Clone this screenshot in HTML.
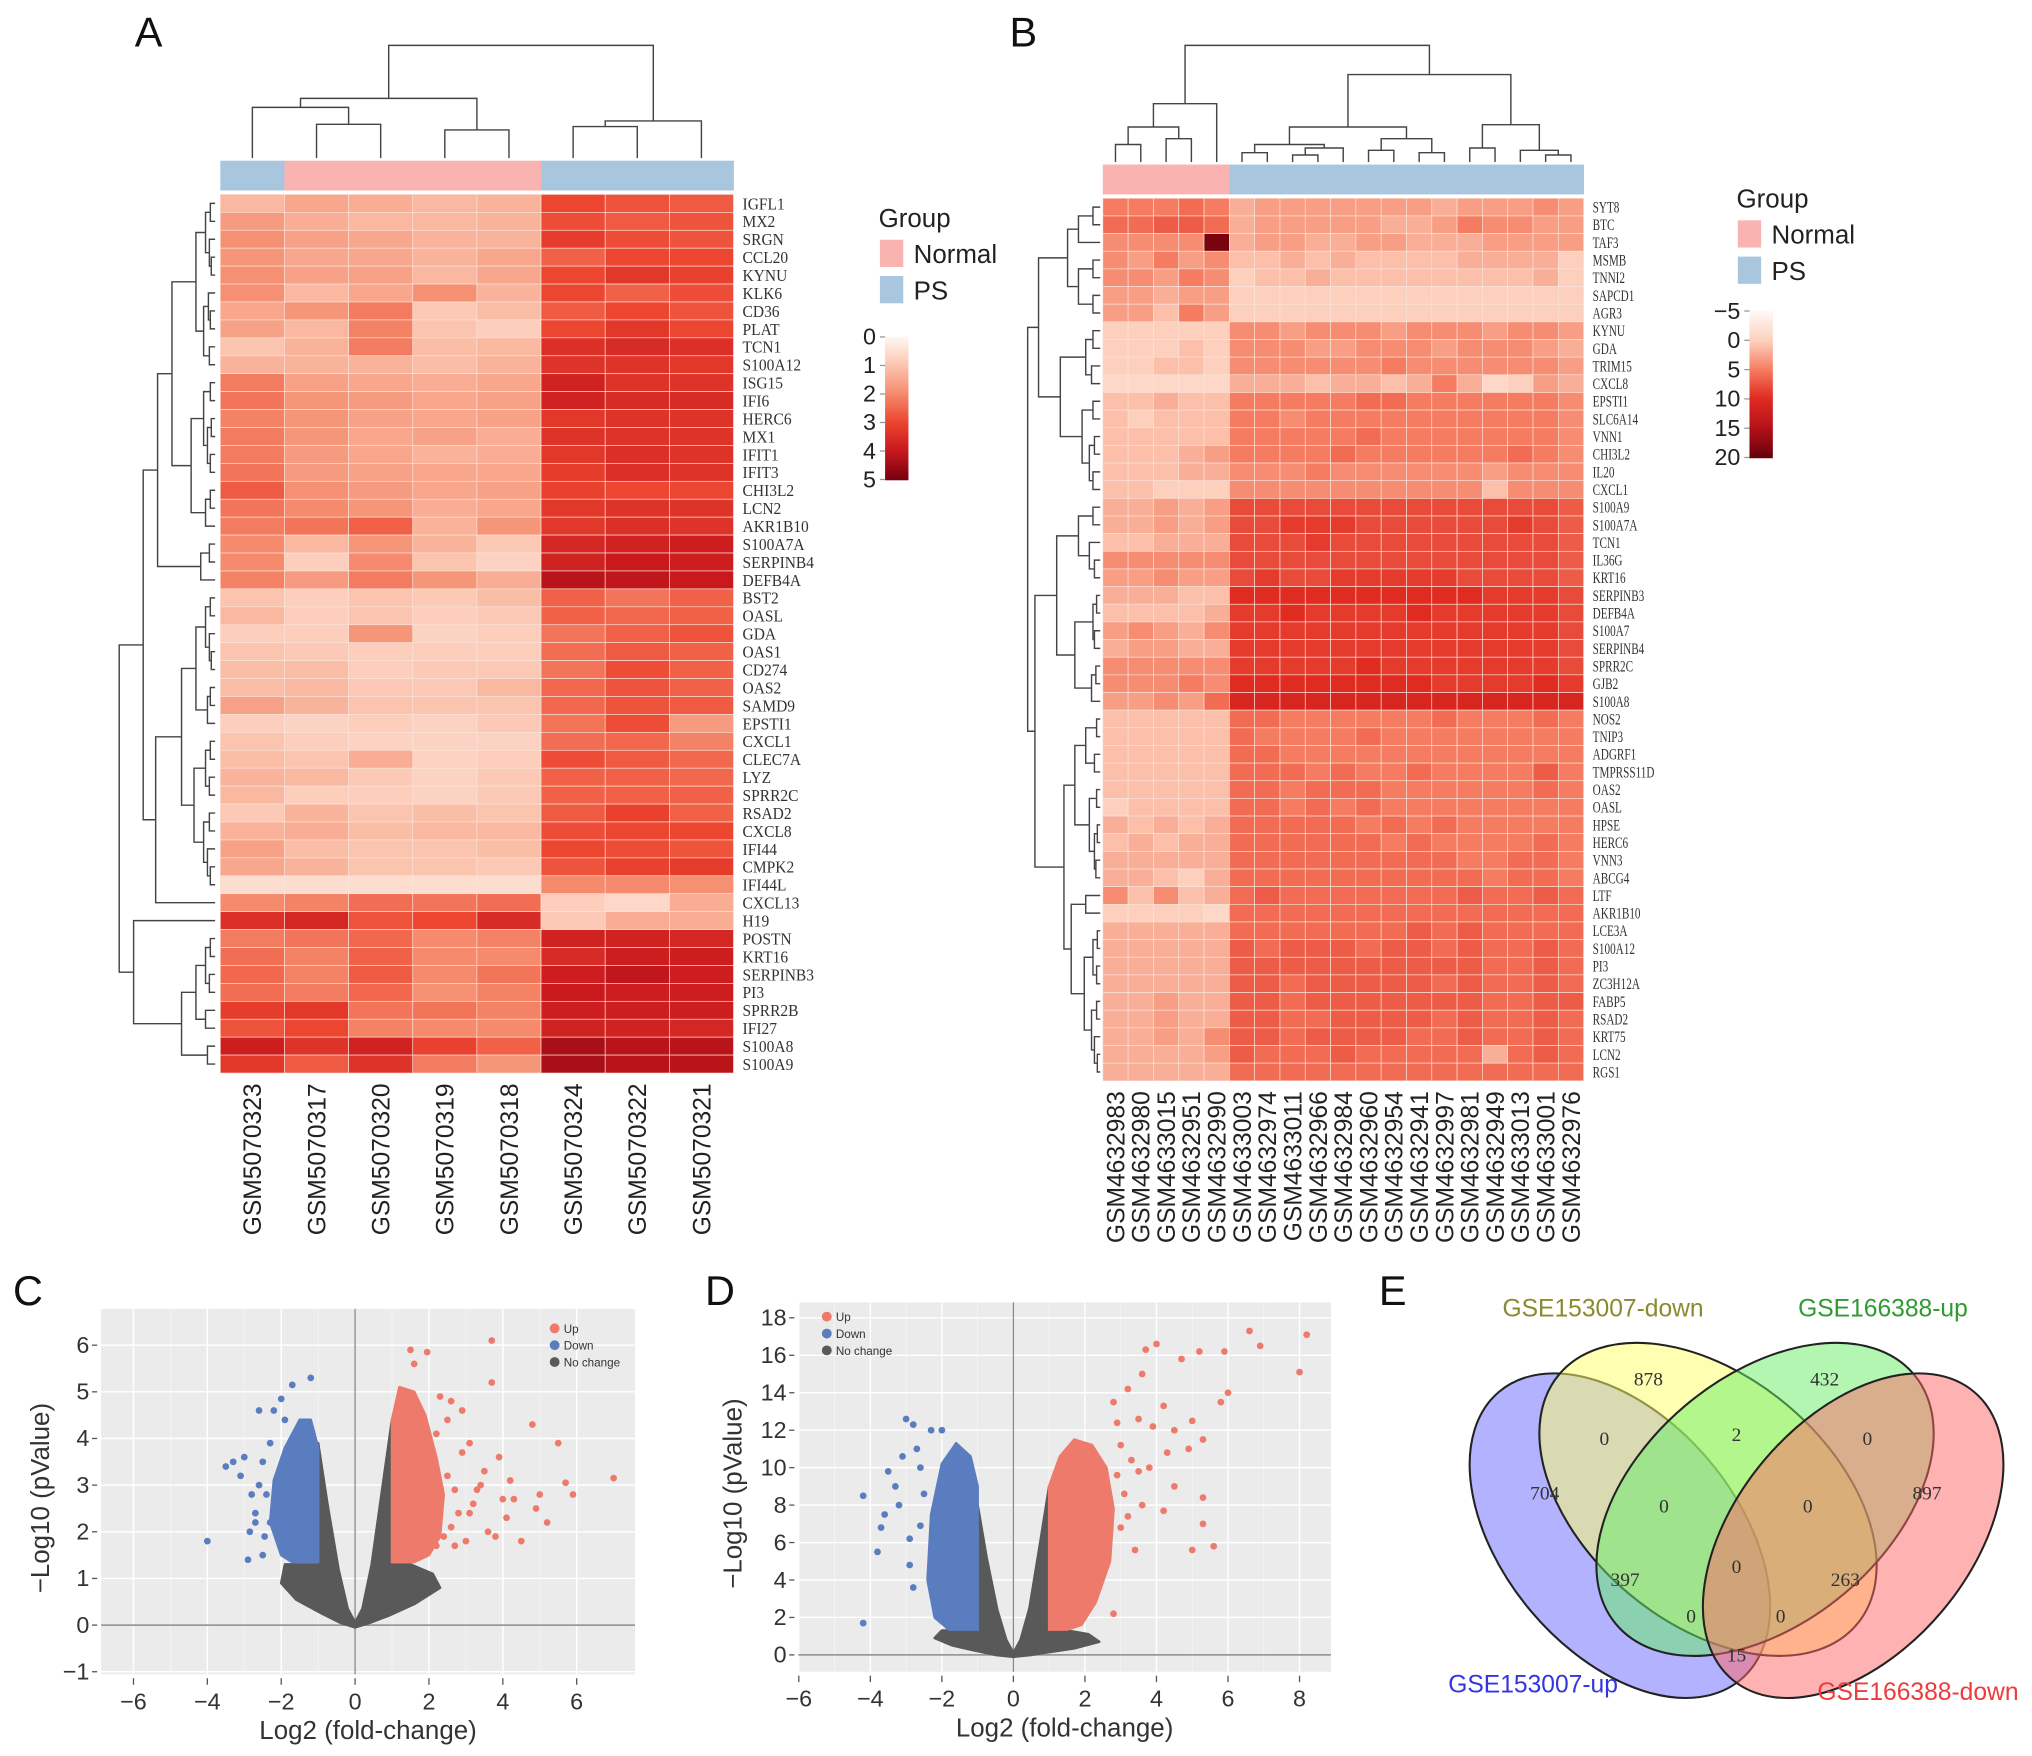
<!DOCTYPE html>
<html><head><meta charset="utf-8"><style>html,body{margin:0;padding:0;background:#fff}svg{display:block}</style></head>
<body>
<svg id="fig" xmlns="http://www.w3.org/2000/svg" width="2032" height="1756" viewBox="0 0 1568 1355" font-family="Liberation Sans, sans-serif">
<rect width="1568" height="1355" fill="#fff"/>
<g font-size="32" fill="#111">
<text x="104" y="36">A</text>
<text x="779" y="36">B</text>
<text x="10" y="1007">C</text>
<text x="544" y="1007">D</text>
<text x="1064" y="1007">E</text>
</g>
<g id="gA"></g>
<g id="gB"></g>
<g id="gC"></g>
<g id="gD"></g>
<g id="gE"></g>
</svg>
<script>
// ---------- Heatmap A data ----------
const aCols=["GSM5070323","GSM5070317","GSM5070320","GSM5070319","GSM5070318","GSM5070324","GSM5070322","GSM5070321"];
const aGroups=["PS","Normal","Normal","Normal","Normal","PS","PS","PS"];
const aRows=["IGFL1","MX2","SRGN","CCL20","KYNU","KLK6","CD36","PLAT","TCN1","S100A12","ISG15","IFI6","HERC6","MX1","IFIT1","IFIT3","CHI3L2","LCN2","AKR1B10","S100A7A","SERPINB4","DEFB4A","BST2","OASL","GDA","OAS1","CD274","OAS2","SAMD9","EPSTI1","CXCL1","CLEC7A","LYZ","SPRR2C","RSAD2","CXCL8","IFI44","CMPK2","IFI44L","CXCL13","H19","POSTN","KRT16","SERPINB3","PI3","SPRR2B","IFI27","S100A8","S100A9"];
const aVals=[
[1.2,1.5,1.4,1.2,1.3,3.0,2.8,2.7],[1.7,1.4,1.2,1.2,1.3,2.9,2.7,2.8],[1.9,1.6,1.5,1.3,1.3,3.2,2.9,2.8],[1.8,1.5,1.5,1.3,1.5,2.6,3.0,3.0],
[1.9,1.6,1.6,1.2,1.5,3.0,3.3,3.1],[1.9,1.2,1.5,1.9,1.3,3.0,2.6,2.9],[1.5,1.8,2.2,0.9,1.1,2.7,3.0,2.8],[1.6,1.2,2.1,1.0,0.8,3.0,3.3,3.0],
[1.0,1.3,2.2,1.1,1.2,3.5,3.6,3.5],[1.3,1.3,1.3,1.1,1.3,3.4,3.4,3.3],[2.2,1.6,1.5,1.4,1.5,3.8,3.4,3.4],[2.3,1.8,1.7,1.5,1.6,3.8,3.6,3.6],
[2.1,1.8,1.6,1.5,1.6,3.3,3.4,3.4],[2.2,1.8,1.5,1.6,1.4,3.4,3.4,3.4],[2.2,1.7,1.5,1.3,1.4,3.3,3.5,3.4],[2.3,1.7,1.6,1.5,1.5,3.2,3.5,3.4],
[2.7,1.9,1.7,1.5,1.6,3.1,3.0,3.0],[2.3,2.0,1.8,1.4,1.5,3.3,3.4,3.4],[2.2,2.3,2.6,1.3,1.8,3.3,3.5,3.4],[2.0,1.2,1.8,1.3,0.9,3.7,3.8,3.9],
[2.0,0.8,2.0,1.0,0.7,3.8,4.0,3.9],[2.1,1.7,2.2,1.8,1.4,4.2,4.1,4.0],[1.0,0.8,1.0,0.9,1.1,2.6,2.3,2.6],[1.2,0.8,1.0,0.8,0.9,2.6,2.5,2.6],
[0.8,0.8,1.8,0.7,0.8,2.3,2.6,2.8],[1.0,0.9,0.8,0.8,0.8,2.4,2.7,2.6],[1.1,1.1,0.8,0.9,0.9,2.3,2.9,2.6],[1.1,1.2,0.9,0.9,1.2,2.5,2.8,2.6],
[1.6,1.3,1.0,1.0,1.0,2.5,2.8,2.7],[0.8,0.7,0.8,0.7,0.9,2.3,2.9,1.7],[1.0,0.8,0.7,0.7,0.7,2.4,2.5,2.1],[1.1,1.0,1.4,0.7,0.8,2.9,2.7,2.5],
[1.3,1.2,0.9,0.7,0.9,2.6,2.6,2.5],[1.2,0.8,0.8,0.7,0.9,2.6,2.6,2.6],[0.9,1.3,1.0,1.1,1.0,2.7,3.1,2.6],[1.3,1.4,1.1,1.2,1.2,2.9,3.0,3.0],
[1.6,1.1,1.0,1.0,1.1,3.0,2.9,2.8],[1.5,1.3,1.0,1.0,0.9,2.8,3.1,3.2],[0.5,0.5,0.5,0.5,0.5,2.0,2.0,1.9],[2.0,2.1,2.4,2.3,2.4,0.8,0.6,1.4],
[3.5,3.7,2.8,3.0,3.6,0.9,1.4,1.4],[2.2,2.3,2.5,2.0,2.1,3.8,3.8,3.7],[2.4,2.1,2.6,2.0,2.0,3.6,3.9,3.9],[2.5,2.1,2.7,2.0,2.3,3.9,4.1,3.9],
[2.4,2.2,2.5,1.9,2.1,4.0,3.9,3.9],[3.2,3.3,2.3,2.3,2.1,3.9,3.9,3.9],[2.8,3.0,2.1,2.0,2.0,3.8,3.8,3.7],[3.9,3.4,3.8,3.1,2.6,4.4,4.2,4.2],
[3.3,2.7,3.4,2.2,1.8,4.4,4.2,4.2]];
const aTicks=[0,1,2,3,4,5];
// ---------- Heatmap B data ----------
const bCols=["GSM4632983","GSM4632980","GSM4633015","GSM4632951","GSM4632990","GSM4633003","GSM4632974","GSM4633011","GSM4632966","GSM4632984","GSM4632960","GSM4632954","GSM4632941","GSM4632997","GSM4632981","GSM4632949","GSM4633013","GSM4633001","GSM4632976"];
const bGroups=["Normal","Normal","Normal","Normal","Normal","PS","PS","PS","PS","PS","PS","PS","PS","PS","PS","PS","PS","PS","PS"];
const bRows=["SYT8","BTC","TAF3","MSMB","TNNI2","SAPCD1","AGR3","KYNU","GDA","TRIM15","CXCL8","EPSTI1","SLC6A14","VNN1","CHI3L2","IL20","CXCL1","S100A9","S100A7A","TCN1","IL36G","KRT16","SERPINB3","DEFB4A","S100A7","SERPINB4","SPRR2C","GJB2","S100A8","NOS2","TNIP3","ADGRF1","TMPRSS11D","OAS2","OASL","HPSE","HERC6","VNN3","ABCG4","LTF","AKR1B10","LCE3A","S100A12","PI3","ZC3H12A","FABP5","RSAD2","KRT75","LCN2","RGS1"];
const bVals=[
[5,5,5,6,5,2,3,3,3,3,3,3,3,2,3,3,3,4,3],[6,6,7,7,6,2,3,3,3,3,3,2,2,3,5,4,4,3,3],[4,4,4,4,19,2,3,3,2,2,3,3,2,2,2,3,3,3,3],
[4,3,5,3,4,1,1,2,1,2,1,1,1,1,2,2,2,2,0],[4,4,3,5,4,0,1,1,2,1,1,1,1,1,1,1,1,2,0],[3,3,2,3,3,0,0,0,0,0,0,0,0,0,0,0,0,0,0],
[3,3,1,5,3,0,0,0,0,0,0,0,0,0,0,0,0,0,0],[0,0,0,0,0,4,4,3,4,4,4,3,4,4,4,3,4,4,3],[0,0,0,1,0,4,4,4,3,3,4,4,4,3,4,4,4,3,2],
[0,0,1,1,0,4,4,4,4,4,4,5,4,4,4,4,4,4,3],[-1,-1,-1,-1,-1,2,2,2,1,2,2,1,2,5,2,-1,0,3,2],[1,1,2,1,1,5,5,5,5,5,6,6,5,5,5,5,5,5,4],
[1,0,1,1,1,5,5,4,5,5,5,5,5,5,5,5,5,5,4],[1,1,1,1,1,5,5,5,5,5,6,5,5,5,5,5,5,5,4],[1,1,1,2,3,5,5,5,5,6,5,5,5,5,5,5,6,5,4],
[1,1,1,2,2,4,4,4,5,4,4,4,4,4,4,3,4,4,4],[1,1,0,0,0,4,4,4,4,4,4,4,4,4,4,1,4,4,4],[2,2,3,2,3,8,8,8,8,8,8,8,8,8,8,8,8,8,7],
[2,2,3,2,3,8,8,9,9,9,8,8,8,8,8,8,9,8,7],[1,1,2,2,2,8,8,8,9,8,8,8,8,8,8,8,8,8,7],[4,4,4,4,4,8,8,8,8,8,8,8,8,8,8,8,8,8,7],
[3,3,4,3,3,8,9,8,8,9,9,9,9,9,8,8,8,8,7],[2,2,2,1,1,10,10,10,10,10,10,10,10,10,10,9,9,9,8],[1,1,1,1,2,9,9,10,9,9,9,9,10,9,9,9,9,9,8],
[3,4,3,2,4,9,9,9,9,9,9,9,9,9,9,9,9,9,8],[2,3,3,2,2,9,9,9,9,9,9,9,9,9,9,9,9,9,8],[4,4,4,4,4,9,9,9,9,9,10,9,9,9,9,9,9,9,8],
[4,4,4,5,4,10,10,10,10,10,10,10,10,9,9,9,9,10,9],[3,3,4,3,6,11,11,11,11,11,11,11,11,11,11,11,11,11,11],[1,1,1,1,1,6,6,5,5,5,5,5,5,6,5,5,5,6,5],
[1,1,1,1,1,6,5,5,5,5,6,5,5,5,5,5,5,5,5],[1,1,1,1,1,6,6,5,5,5,5,5,5,5,5,5,5,5,5],[1,1,1,1,1,6,6,6,5,6,5,5,6,5,5,5,5,7,5],
[1,1,1,1,1,6,6,5,6,6,6,5,5,5,5,5,5,6,5],[0,1,1,1,1,6,6,5,6,5,6,5,5,5,5,5,5,5,5],[2,1,2,1,2,6,6,6,6,6,5,6,5,6,5,5,5,5,5],
[1,2,1,2,2,6,6,6,6,6,6,5,6,5,5,5,5,6,5],[2,2,2,2,2,6,6,6,6,6,6,6,6,6,5,5,6,6,5],[2,2,1,0,2,6,6,6,6,6,6,6,6,6,6,5,6,6,5],
[4,1,4,1,2,6,7,6,6,6,6,6,6,6,7,6,6,7,6],[0,0,0,0,-1,6,6,6,6,6,6,6,6,6,6,6,6,6,6],[2,2,2,2,2,6,6,6,6,6,6,6,7,6,7,6,6,6,6],
[2,2,2,2,2,7,6,7,7,7,6,7,7,6,7,6,6,7,6],[2,2,2,2,2,7,7,7,7,7,7,7,7,7,7,6,6,7,6],[2,2,2,2,2,7,7,6,7,7,7,7,7,6,7,6,6,7,6],
[2,2,3,2,2,7,7,6,7,7,7,7,7,7,7,6,6,7,7],[2,2,3,2,2,7,7,6,6,7,7,7,7,6,7,6,6,7,6],[2,2,3,2,4,7,7,6,7,7,7,7,6,6,7,6,6,7,6],
[2,2,2,2,3,7,6,6,6,7,6,6,6,6,6,2,6,7,6],[2,2,2,2,2,6,6,6,6,6,6,6,6,6,6,6,6,6,6]];
const bTicks=[-5,0,5,10,15,20];
// ---------- Volcano C data ----------
const cXTicks=[-6,-4,-2,0,2,4,6];
const cYTicks=[-1,0,1,2,3,4,5,6];
const cGrayX=[-1,-0.75,-0.45,-0.2,0,0.2,0.45,0.75,1,1,1.5,2.1,2.3,1.6,0.9,0.4,0,-0.4,-0.9,-1.6,-2.0,-1.9,-1.4,-1];
const cGrayY=[3.9,2.6,1.2,0.35,0.05,0.35,1.3,3.0,4.4,1.3,1.3,1.1,0.8,0.45,0.2,0.05,-0.05,0.05,0.25,0.55,0.9,1.3,1.3,1.3];
const cDownX=[-1,-1,-1.2,-1.5,-1.9,-2.2,-2.3,-2.0,-1.7];
const cDownY=[1.35,3.8,4.4,4.4,3.8,3.1,2.2,1.5,1.35];
const cUpX=[1,1,1.2,1.6,1.9,2.2,2.4,2.3,2.0,1.6];
const cUpY=[1.35,4.4,5.1,5.0,4.5,3.6,2.8,1.9,1.5,1.35];
const cUpPtsX=[3.7,3.7,1.5,1.95,1.6,4.8,5.5,5.9,7.0,5.7,4.5,3.8,3.5,3.9,4.2,3.2,5.0,3.6,2.9,2.6,2.3,3.1,4.0,5.2,3.3,4.9,4.3,2.7,3.0,2.5,2.8,3.4,2.6,2.9,4.1,2.2,2.4,3.1,2.7,2.2,2.5];
const cUpPtsY=[6.1,5.2,5.9,5.85,5.6,4.3,3.9,2.8,3.15,3.05,1.8,1.9,3.3,3.6,3.1,2.6,2.8,2.0,4.6,4.8,4.9,3.9,2.7,2.2,2.9,2.5,2.7,1.7,1.8,3.2,2.4,3.0,2.1,3.7,2.3,4.1,1.9,2.4,2.9,1.7,4.4];
const cDnPtsX=[-4,-3.3,-3.0,-2.8,-3.5,-2.6,-2.9,-2.5,-2.3,-1.2,-1.7,-2.2,-2.7,-3.1,-2.5,-2.0,-2.85,-1.9,-2.4,-2.6,-2.3,-2.7,-2.45,-2.1];
const cDnPtsY=[1.8,3.5,3.6,2.8,3.4,4.6,1.4,1.5,2.2,5.3,5.15,4.6,2.4,3.2,3.5,4.85,2.0,4.4,2.8,3.0,3.9,2.2,1.9,2.5];
// ---------- Volcano D data ----------
const dXTicks=[-6,-4,-2,0,2,4,6,8];
const dYTicks=[0,2,4,6,8,10,12,14,16,18];
const dGrayX=[-1,-0.75,-0.45,-0.2,0,0.2,0.45,0.75,1,1,1.5,2.1,2.4,1.7,1.0,0.5,0,-0.5,-1,-1.7,-2.2,-2.0,-1.5,-1];
const dGrayY=[8.0,5.2,2.4,0.8,0.1,0.8,2.5,6.0,9.0,1.3,1.3,1.1,0.7,0.35,0.15,0.0,-0.1,0.0,0.2,0.5,0.9,1.3,1.3,1.3];
const dDownX=[-1,-1,-1.2,-1.6,-2.0,-2.3,-2.4,-2.2,-1.8];
const dDownY=[1.35,9.0,10.6,11.3,10.2,7.5,4.0,2.0,1.35];
const dUpX=[1,1,1.3,1.7,2.2,2.6,2.8,2.7,2.3,1.9,1.5];
const dUpY=[1.35,9.0,10.6,11.5,11.2,10.0,7.8,5.0,2.8,1.6,1.35];
const dUpPtsX=[6.6,8.2,6.9,5.9,5.2,4.0,3.7,4.7,3.6,8.0,6.0,5.8,5.0,4.2,4.5,3.5,4.9,3.2,5.3,5.3,5.0,5.3,4.5,3.8,3.6,4.2,3.4,2.8,5.6,2.8,3.9,3.0,3.3,2.9,3.1,3.5,3.0,4.3,2.9,3.2];
const dUpPtsY=[17.3,17.1,16.5,16.2,16.2,16.6,16.3,15.8,15.0,15.1,14.0,13.5,12.5,13.3,12.0,12.6,11.0,14.2,8.4,7.0,5.6,11.5,9.0,10.0,8.0,7.7,5.6,2.2,5.8,13.5,12.2,11.2,10.4,9.6,8.6,9.8,6.8,10.8,12.4,7.4];
const dDnPtsX=[-4.2,-4.2,-3.5,-3.0,-2.8,-2.3,-3.7,-3.2,-3.6,-2.7,-3.3,-2.9,-2.6,-3.8,-2.0,-2.5,-2.9,-2.6,-2.8,-3.1];
const dDnPtsY=[8.5,1.7,9.8,12.6,12.3,12.0,6.8,8.0,7.5,11.0,9.0,6.2,10.0,5.5,12.0,8.6,4.8,6.9,3.6,10.6];
// ---------- Venn data ----------
const vennSets=["GSE153007-up","GSE153007-down","GSE166388-up","GSE166388-down"];
const vennCounts=[704,878,432,897,0,2,0,0,0,0,397,263,0,0,15];

const NS='http://www.w3.org/2000/svg';
function mk(p,tag,at){const e=document.createElementNS(NS,tag);for(const k in at)e.setAttribute(k,at[k]);p.appendChild(e);return e;}
function hex(c){return [parseInt(c.slice(1,3),16),parseInt(c.slice(3,5),16),parseInt(c.slice(5,7),16)];}
function ramp(stops,cols){const cs=cols.map(hex);return v=>{if(v<=stops[0])return cols[0];for(let i=1;i<stops.length;i++){if(v<=stops[i]){const t=(v-stops[i-1])/(stops[i]-stops[i-1]);const a=cs[i-1],b=cs[i];return 'rgb('+a.map((x,j)=>Math.round(x+(b[j]-x)*t)).join(',')+')';}}return cols[cols.length-1];};}
const colA=ramp([0,1,2,3,4,5],['#fff5f0','#fbc4ae','#f58a6c','#ec4530','#c9191d','#7a0010']);
const colB=ramp([-5,0,5,10,15,20],['#fff7f3','#fcd0bd','#f57c60','#e02b20','#b5121a','#6a000c']);
const grpCol={Normal:'#f9b3b0',PS:'#a9c6df'};

function dendro(g,tree,leafPos,hPos,orient,leafEdge,name){
  function walk(n){
    if(typeof n==='number')return {p:leafPos(n),h:null};
    const a=walk(n[1]),b=walk(n[2]);const hn=hPos(n[0]);
    const ha=a.h===null?leafEdge:a.h,hb=b.h===null?leafEdge:b.h;
    let d;
    if(orient==='top')d=`M${a.p},${ha}V${hn}H${b.p}V${hb}`;
    else d=`M${ha},${a.p}H${hn}V${b.p}H${hb}`;
    const e=mk(g,'path',{d:d,fill:'none',stroke:'#444','stroke-width':1.1});
    
    
    return {p:(a.p+b.p)/2,h:hn};
  }
  walk(tree);
}

function heatmap(g,cfg){
  const {x0,y0,w,h,cols,groups,rows,vals,col,pre}=cfg;
  const cw=w/cols.length,rh=h/rows.length;
  groups.forEach((gr,j)=>{const r=mk(g,'rect',{x:x0+j*cw,y:cfg.annY,width:cw+0.3,height:cfg.annH,fill:grpCol[gr]});
    
    });
  vals.forEach((row,i)=>row.forEach((v,j)=>{
    const r=mk(g,'rect',{x:x0+j*cw,y:y0+i*rh,width:cw,height:rh,fill:col(v),stroke:'#fbe3da','stroke-width':0.5});
    
    
  }));
  rows.forEach((n,i)=>{const t=mk(g,'text',{x:cfg.labX,y:y0+(i+0.5)*rh+cfg.rowFs*0.35,'font-family':'Liberation Serif, serif','font-size':cfg.rowFs,fill:'#333',transform:`translate(${cfg.labX},0) scale(${cfg.sx},1) translate(${-cfg.labX},0)`});t.textContent=n;
    
    });
  cols.forEach((n,j)=>{const cx=x0+(j+0.5)*cw+cfg.colFs*0.36,cy=y0+h+8;const t=mk(g,'text',{x:cx,y:cy,'font-size':cfg.colFs,fill:'#222','text-anchor':'end',transform:`rotate(-90 ${cx} ${cy})`});t.textContent=n;
    
    });
  return {cw,rh};
}
function legend(g,lx,ly,cb,ticks,col,pre){
  let t=mk(g,'text',{x:lx,y:ly,'font-size':20,fill:'#222'});t.textContent='Group';
  
  
  ['Normal','PS'].forEach((k,i)=>{const r=mk(g,'rect',{x:lx+1,y:ly+10+i*28,width:18,height:21,fill:grpCol[k]});
    
    
    const tt=mk(g,'text',{x:lx+27,y:ly+28+i*28,'font-size':20,fill:'#222'});tt.textContent=k;
    
    });
  const lo=ticks[0],hi=ticks[ticks.length-1];const yv=v=>cb.y+(v-lo)/(hi-lo)*cb.h;
  for(let k=0;k<60;k++){const v=lo+(hi-lo)*k/59;const r=mk(g,'rect',{x:cb.x,y:cb.y+cb.h*k/60,width:18,height:cb.h/60+0.6,fill:col(v)});
    
    }
  ticks.forEach(v=>{const l=mk(g,'line',{x1:cb.x-4,x2:cb.x,y1:yv(v),y2:yv(v),stroke:'#999'});
    
    
    const tt=mk(g,'text',{x:cb.x-7,y:yv(v)+6,'font-size':18,fill:'#222','text-anchor':'end'});tt.textContent=(v<0?'\u2212'+(-v):v);
    
    });
}
// ---- Panel A ----
const gA=document.getElementById('gA');
const hA=heatmap(gA,{x0:170,y0:150,w:396,h:678,cols:aCols,groups:aGroups,rows:aRows,vals:aVals,col:colA,pre:'heatmap-a-',annY:124,annH:23,labX:573,rowFs:13,sx:0.92,colFs:19});
const aTop=[1,[0.53,[0.45,0,[0.3,1,2]],[0.25,3,4]],[0.33,[0.28,5,6],7]];
dendro(gA,aTop,j=>170+(j+0.5)*hA.cw,h=>122-h*87,'top',122,'heatmap-a-column-dendrogram');
const T1=[0.6,[0.45,[0.2,[0.1,[0.05,0,1],[0.06,2,[0.04,3,4]]],[0.12,[0.07,5,[0.05,6,7]],[0.06,8,9]]],[0.25,[0.12,[0.05,10,11],[0.08,[0.04,12,13],[0.05,14,15]]],[0.1,[0.05,16,17],18]]],[0.15,[0.06,19,20],21]];
const T2=[0.35,[0.2,[0.1,[0.05,22,23],[0.06,24,[0.04,25,26]]],[0.08,[0.05,27,28],29]],[0.22,[0.1,[0.05,30,31],[0.06,32,33]],[0.12,[0.06,34,35],[0.08,36,[0.05,37,38]]]]];
const T3=[0.35,[0.2,[0.1,[0.05,41,42],[0.06,43,44]],[0.1,45,46]],[0.08,47,48]];
dendro(gA,[1,[0.75,T1,[0.62,T2,39]],[0.85,40,T3]],i=>150+(i+0.5)*hA.rh,h=>166-h*74,'left',166,'heatmap-a-row-dendrogram');
legend(gA,678,175,{x:683,y:260,h:110},aTicks,colA,'heatmap-a-');
// ---- Panel B ----
const gB=document.getElementById('gB');
const hB=heatmap(gB,{x0:851,y0:153,w:371,h:681,cols:bCols,groups:bGroups,rows:bRows,vals:bVals,col:colB,pre:'heatmap-b-',annY:127,annH:23,labX:1229,rowFs:12,sx:0.72,colFs:19});
const bN=[0.5,[0.3,[0.15,0,1],[0.2,2,3]],4];
const bP=[0.75,[0.3,[0.15,[0.08,5,6],[0.12,[0.06,7,8],9]],[0.2,[0.1,10,11],[0.08,12,13]]],[0.32,[0.12,14,15],[0.1,16,[0.06,17,18]]]];
dendro(gB,[1,bN,bP],j=>851+(j+0.5)*hB.cw,h=>125-h*90,'top',125,'heatmap-b-column-dendrogram');
const G1=[0.45,[0.3,[0.1,0,1],2],[0.3,[0.1,3,4],[0.1,5,6]]];
const G2=[0.55,[0.2,[0.1,7,8],[0.12,9,10]],[0.25,[0.1,11,12],[0.15,[0.08,13,14],[0.1,15,16]]]];
const G3=[0.6,[0.3,[0.1,17,18],[0.15,19,[0.08,20,21]]],[0.35,[0.1,[0.05,22,23],[0.08,24,25]],[0.12,[0.06,26,27],28]]];
const G4=[0.5,[0.35,[0.2,[0.05,29,30],[0.08,31,32]],[0.15,[0.05,33,34],[0.08,[0.04,35,36],[0.06,37,38]]]],[0.4,[0.2,39,40],[0.22,[0.1,[0.04,41,42],[0.05,43,44]],[0.12,[0.05,45,46],[0.08,47,[0.04,48,49]]]]]];
dendro(gB,[1,[0.85,G1,G2],[0.9,G3,G4]],i=>153+(i+0.5)*hB.rh,h=>849-h*56,'left',849,'heatmap-b-row-dendrogram');
legend(gB,1340,160,{x:1350,y:240,h:113},bTicks,colB,'heatmap-b-');
// ---- Volcano ----
function volcano(g,cfg){
  const {bx,by,bw,bh,xs,ys,xt,yt,pre}=cfg;
  let r=mk(g,'rect',{x:bx,y:by,width:bw,height:bh,fill:'#ebebeb'});
  
  
  for(let i=0;i<xt.length;i++){const v=xt[i];
    const l=mk(g,'line',{x1:xs(v),x2:xs(v),y1:by,y2:by+bh,stroke:'#fff','stroke-width':1.1});
    
    
    if(i<xt.length-1){const m=(v+xt[i+1])/2;const l2=mk(g,'line',{x1:xs(m),x2:xs(m),y1:by,y2:by+bh,stroke:'#f6f6f6','stroke-width':0.6});
      
      }
    const tk=mk(g,'line',{x1:xs(v),x2:xs(v),y1:by+bh+3,y2:by+bh+8,stroke:'#555'});
    
    
    const t=mk(g,'text',{x:xs(v),y:by+bh+27,'font-size':18,fill:'#333','text-anchor':'middle'});t.textContent=v<0?'\u2212'+(-v):v;
    
    }
  for(let i=0;i<yt.length;i++){const v=yt[i];
    const l=mk(g,'line',{x1:bx,x2:bx+bw,y1:ys(v),y2:ys(v),stroke:'#fff','stroke-width':1.1});
    
    
    const tk=mk(g,'line',{x1:bx-7,x2:bx-3,y1:ys(v),y2:ys(v),stroke:'#555'});
    
    
    const t=mk(g,'text',{x:bx-9,y:ys(v)+6,'font-size':18,fill:'#333','text-anchor':'end'});t.textContent=v<0?'\u2212'+(-v):v;
    
    }
  let z=mk(g,'line',{x1:xs(0),x2:xs(0),y1:by,y2:by+bh,stroke:'#888','stroke-width':1});
  
  
  z=mk(g,'line',{x1:bx,x2:bx+bw,y1:ys(0),y2:ys(0),stroke:'#999','stroke-width':1.4});
  
  
  function poly(X,Y,fill,name){const p=mk(g,'polygon',{points:X.map((x,i)=>xs(x)+','+ys(Y[i])).join(' '),fill:fill,stroke:fill,'stroke-width':2,'stroke-linejoin':'round'});
    
    }
  function pts(X,Y,fill,name){X.forEach((x,i)=>{const c=mk(g,'circle',{cx:xs(x),cy:ys(Y[i]),r:2.6,fill:fill});
    
    });}
  poly(cfg.gx,cfg.gy,'#595959',pre+'nochange-cloud');
  poly(cfg.dx,cfg.dy,'#5a7dbf',pre+'down-cloud');
  poly(cfg.ux,cfg.uy,'#ee7a6b',pre+'up-cloud');
  pts(cfg.upx,cfg.upy,'#ee7a6b',pre+'up-point');
  pts(cfg.dnx,cfg.dny,'#5a7dbf',pre+'down-point');
  [['Up','#ee7a6b'],['Down','#5a7dbf'],['No change','#595959']].forEach((e,i)=>{
    const c=mk(g,'circle',{cx:cfg.lx,cy:cfg.ly+i*13,r:3.8,fill:e[1]});
    
    
    const t=mk(g,'text',{x:cfg.lx+7,y:cfg.ly+i*13+3.5,'font-size':9,fill:'#333'});t.textContent=e[0];
    
    });
  let t=mk(g,'text',{x:bx+bw/2,y:by+bh+50,'font-size':20,fill:'#333','text-anchor':'middle'});t.textContent='Log2 (fold-change)';
  
  
  const ty=by+bh/2+5;
  t=mk(g,'text',{x:cfg.tx,y:ty,'font-size':20,fill:'#333','text-anchor':'middle',transform:`rotate(-90 ${cfg.tx} ${ty})`});t.textContent='\u2212Log10 (pValue)';
  
  
}
volcano(document.getElementById('gC'),{bx:78,by:1010,bw:412,bh:282,xs:v=>274+28.5*v,ys:v=>1254-36*v,xt:cXTicks,yt:cYTicks,
  gx:cGrayX,gy:cGrayY,dx:cDownX,dy:cDownY,ux:cUpX,uy:cUpY,upx:cUpPtsX,upy:cUpPtsY,dnx:cDnPtsX,dny:cDnPtsY,lx:428,ly:1025,tx:38,pre:'volcano-c-'});
volcano(document.getElementById('gD'),{bx:616,by:1005,bw:411,bh:285,xs:v=>782+27.6*v,ys:v=>1277-14.45*v,xt:dXTicks,yt:dYTicks,
  gx:dGrayX,gy:dGrayY,dx:dDownX,dy:dDownY,ux:dUpX,uy:dUpY,upx:dUpPtsX,upy:dUpPtsY,dnx:dDnPtsX,dny:dDnPtsY,lx:638,ly:1016,tx:572,pre:'volcano-d-'});
// ---- Venn ----
const gE=document.getElementById('gE');
const ells=[[1250,1185,145,90,50,'#6666ff'],[1318,1157,150,95,40,'#ffff66'],[1362,1157,150,95,-40,'#66ee66'],[1430,1185,145,90,-50,'#ff6666']];
ells.forEach((e,i)=>{const el=mk(gE,'ellipse',{cx:e[0],cy:e[1],rx:e[2],ry:e[3],transform:`rotate(${e[4]} ${e[0]} ${e[1]})`,fill:e[5],'fill-opacity':0.5,stroke:'#222','stroke-width':1.6});
  
  });
const vPos=[[1192,1157],[1272,1069],[1408,1069],[1487,1157],[1238,1115],[1340,1112],[1441,1115],[1284,1167],[1395,1167],[1340,1214],[1254,1224],[1424,1224],[1305,1252],[1374,1252],[1340,1282]];
vennCounts.forEach((c,i)=>{const t=mk(gE,'text',{x:vPos[i][0],y:vPos[i][1],'font-family':'Liberation Serif, serif','font-size':15,fill:'#333','text-anchor':'middle'});t.textContent=c;
  
  });
[[1183,1306,'#3535e0'],[1237,1016,'#8a8a30'],[1453,1016,'#2f9a2f'],[1480,1312,'#ee3a3a']].forEach((p,i)=>{const t=mk(gE,'text',{x:p[0],y:p[1],'font-size':19,fill:p[2],'text-anchor':'middle'});t.textContent=vennSets[i];
  
  });
</script>
</body></html>
